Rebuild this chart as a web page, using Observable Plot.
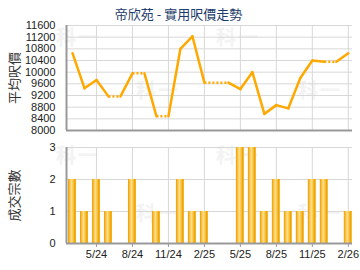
<!DOCTYPE html>
<html>
<head>
<meta charset="utf-8">
<script src="https://cdn.jsdelivr.net/npm/d3@7"></script>
<script src="https://cdn.jsdelivr.net/npm/@observablehq/plot@0.6"></script>
<style>
  html, body { margin: 0; padding: 0; background: #fff; }
  #wrap { position: relative; width: 360px; height: 270px; overflow: hidden; font-family: "Liberation Sans", Arial, sans-serif; }
  .wm { position: absolute; font-family: "Noto Sans CJK TC", sans-serif; font-weight: bold; font-size: 20px; color: #f3f3f3; letter-spacing: 2px; z-index: 0; }
  #title { position: absolute; left: 0; top: 4px; width: 357px; text-align: center; font-family: "Noto Sans CJK TC", sans-serif; font-size: 13px; color: #1d3c6b; z-index: 2; line-height: 20px; }
  .chart { position: absolute; left: 0; z-index: 1; }
  .chart svg { background: transparent !important; }
</style>
</head>
<body>
<div id="wrap">
  <div class="wm" style="left:56px;top:22px">科一</div>
  <div class="wm" style="left:216px;top:22px">科一</div>
  <div class="wm" style="left:136px;top:75px">科一</div>
  <div class="wm" style="left:298px;top:75px">科一</div>
  <div class="wm" style="left:56px;top:140px">科一</div>
  <div class="wm" style="left:216px;top:140px">科一</div>
  <div class="wm" style="left:136px;top:198px">科一</div>
  <div class="wm" style="left:298px;top:198px">科一</div>
  <div id="title">帝欣苑 - 實用呎價走勢</div>
  <div class="chart" id="topChart" style="top:0px"></div>
  <div class="chart" id="bottomChart" style="top:135px"></div>
</div>
<script>
// ---- data ----
const months = ["3/24","4/24","5/24","6/24","7/24","8/24","9/24","10/24","11/24","12/24",
                "1/25","2/25","3/25","4/25","5/25","6/25","7/25","8/25","9/25","10/25",
                "11/25","12/25","1/26","2/26"];
// average price per sq ft (months without deals carry previous value)
const prices = [10650, 9450, 9730, 9170, 9170, 9960, 9960, 8490, 8490, 10800,
                11230, 9640, 9640, 9640, 9420, 10000, 8570, 8870, 8760, 9800,
                10400, 10360, 10360, 10650];
const counts = [2,1,2,1,0,2,0,1,0,2,1,1,0,0,3,3,1,2,1,1,2,2,0,1];
const xTickLabels = ["5/24","8/24","11/24","2/25","5/25","8/25","11/25","2/26"];
const priceTicks = [8000,8400,8800,9200,9600,10000,10400,10800,11200,11600];
const countTicks = [0,1,2,3];

(function () {
const data = months.map((m, i) => ({i, month: m, price: prices[i], count: counts[i]}));
const xTickIdx = xTickLabels.map(l => months.indexOf(l));
const segs = data.slice(1).map((d, k) => ({
  x1: data[k].i, y1: data[k].price, x2: d.i, y2: d.price, dotted: d.count === 0
}));

const xDomain = [-0.5, 23.35];
const font = "Liberation Sans, Arial, sans-serif";
const cjk = "Noto Sans CJK TC, sans-serif";
const lineColor = "#ffa800";
const gridColor = "#d8d8d8";
const axisColor = "#999";

const topPlot = Plot.plot({
  width: 360, height: 135,
  marginLeft: 66, marginRight: 8, marginTop: 25, marginBottom: 5,
  style: {fontFamily: font, fontSize: "11px", color: "#222", background: "transparent"},
  x: {domain: xDomain, axis: null},
  y: {domain: [8000, 11600], axis: null},
  marks: [
    Plot.gridY(priceTicks, {stroke: gridColor, strokeOpacity: 1}),
    Plot.gridX(xTickIdx, {stroke: gridColor, strokeOpacity: 1}),
    Plot.axisY(priceTicks, {tickSize: 0, tickPadding: 11, fontSize: 11, fill: "#222",
      tickFormat: d => String(d), label: null}),
    Plot.ruleX([xDomain[0]], {stroke: axisColor, strokeWidth: 2}),
    Plot.ruleY([8000], {stroke: axisColor, strokeWidth: 2}),
    Plot.link(segs.filter(s => !s.dotted), {x1: "x1", y1: "y1", x2: "x2", y2: "y2",
      stroke: lineColor, strokeWidth: 2.5, strokeLinecap: "round"}),
    Plot.link(segs.filter(s => s.dotted), {x1: "x1", y1: "y1", x2: "x2", y2: "y2",
      stroke: lineColor, strokeWidth: 2.5, strokeDasharray: "2,2"}),
    Plot.text(["平均呎價"], {frameAnchor: "left", textAnchor: "middle", dx: -52, rotate: -90,
      fontSize: 13, fontFamily: cjk, fill: "#333"})
  ]
});
document.getElementById("topChart").appendChild(topPlot);

const bottomPlot = Plot.plot({
  width: 360, height: 135,
  marginLeft: 66, marginRight: 8, marginTop: 12, marginBottom: 27,
  style: {fontFamily: font, fontSize: "11px", color: "#222", background: "transparent"},
  x: {domain: xDomain, axis: null},
  y: {domain: [0, 3], axis: null},
  marks: [
    Plot.gridY(countTicks, {stroke: gridColor, strokeOpacity: 1}),
    Plot.gridX(xTickIdx, {stroke: gridColor, strokeOpacity: 1}),
    Plot.axisY(countTicks, {tickSize: 0, tickPadding: 11, fontSize: 11, fill: "#222",
      tickFormat: d => String(d), label: null}),
    Plot.axisX(xTickIdx, {tickSize: 4, tickPadding: 3, fontSize: 11, fill: "#222", stroke: axisColor,
      tickFormat: i => months[i], label: null}),
    Plot.rectY(data.filter(d => d.count > 0), {x1: d => d.i - 0.5, x2: d => d.i + 0.5, y: "count",
      insetLeft: 2, insetRight: 2, fill: "url(#barGrad)"}),
    Plot.ruleX([xDomain[0]], {stroke: axisColor, strokeWidth: 2}),
    Plot.ruleY([0], {stroke: axisColor, strokeWidth: 2}),
    Plot.text(["成交宗數"], {frameAnchor: "left", textAnchor: "middle", dx: -52, rotate: -90,
      fontSize: 13, fontFamily: cjk, fill: "#333"})
  ]
});
// gradient definition for bars
const ns = "http://www.w3.org/2000/svg";
const defs = document.createElementNS(ns, "defs");
defs.innerHTML = `<linearGradient id="barGrad" x1="0" x2="1" y1="0" y2="0">
  <stop offset="0" stop-color="#eb9c00"/>
  <stop offset="0.2" stop-color="#f8bd3a"/>
  <stop offset="0.42" stop-color="#ffe08e"/>
  <stop offset="0.65" stop-color="#f9c445"/>
  <stop offset="0.85" stop-color="#efa400"/>
  <stop offset="1" stop-color="#f3b020"/>
</linearGradient>`;
bottomPlot.insertBefore(defs, bottomPlot.firstChild);
document.getElementById("bottomChart").appendChild(bottomPlot);
})();
</script>
</body>
</html>
